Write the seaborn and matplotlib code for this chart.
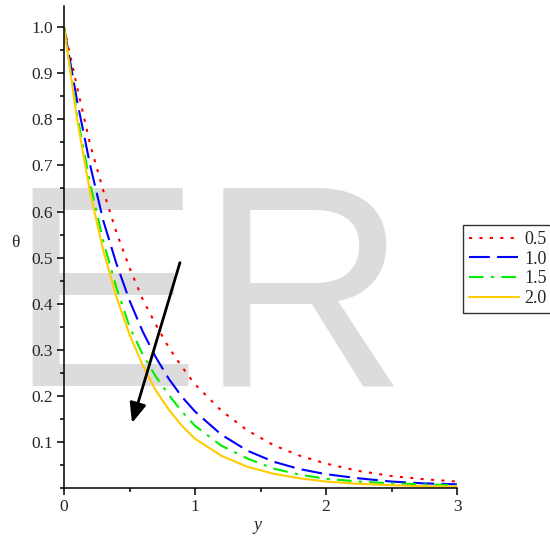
import matplotlib
matplotlib.use("Agg")
import matplotlib.pyplot as plt
import numpy as np
import pandas as pd
import seaborn as sns
from matplotlib.ticker import MultipleLocator, FormatStrFormatter

# values
y_vals = [0, 0.1, 0.2, 0.3, 0.4, 0.5, 0.6, 0.7, 0.8, 0.9, 1.0,
          1.2, 1.4, 1.6, 1.8, 2.0, 2.25, 2.5, 2.75, 3.0]
theta_05 = [1.0, 0.87, 0.745, 0.645, 0.555, 0.478, 0.41, 0.355, 0.305, 0.263, 0.225,
            0.168, 0.125, 0.093, 0.07, 0.053, 0.037, 0.026, 0.019, 0.014]
theta_10 = [1.0, 0.84, 0.70, 0.58, 0.487, 0.407, 0.34, 0.284, 0.237, 0.198, 0.166,
            0.116, 0.081, 0.057, 0.041, 0.030, 0.021, 0.014, 0.010, 0.008]
theta_15 = [1.0, 0.81, 0.66, 0.535, 0.435, 0.35, 0.29, 0.242, 0.202, 0.166, 0.135,
            0.092, 0.064, 0.042, 0.029, 0.020, 0.014, 0.010, 0.008, 0.006]
theta_20 = [1.0, 0.80, 0.64, 0.515, 0.415, 0.333, 0.267, 0.212, 0.17, 0.135, 0.107,
            0.070, 0.046, 0.031, 0.021, 0.014, 0.009, 0.006, 0.004, 0.003]
labels = ["0.5", "1.0", "1.5", "2.0"]
colors = ["#ff0000", "#0000ff", "#00ee00", "#ffcc00"]
dash_styles = [(1.5, 3.5), (10, 3.5), (7, 3.5, 1.5, 3.5), ""]

series = [theta_05, theta_10, theta_15, theta_20]
df = pd.concat([pd.DataFrame({"y": y_vals, "theta": s, "param": lab})
                for s, lab in zip(series, labels)], ignore_index=True)

sns.set_style("white")
plt.rcParams["font.family"] = ["Liberation Serif", "DejaVu Serif"]

fig = plt.figure(figsize=(5.5, 5.39), dpi=100)
ax = fig.add_axes([64 / 550, 1 - 488 / 539, 393 / 550, 482 / 539])
ax.set_facecolor("none")

# watermark behind everything
fig.text(8 / 550, 1 - 386 / 539, "ER", fontsize=207, color="#dcdcdc",
         family="Liberation Sans", ha="left", va="baseline", zorder=-1)

sns.lineplot(data=df, x="y", y="theta", hue="param", style="param",
             hue_order=labels, style_order=labels, palette=colors,
             dashes=dash_styles, linewidth=1.5, legend=False, ax=ax)

ax.set_xlim(0, 3)
ax.set_ylim(0, 1.046)
ax.xaxis.set_major_locator(MultipleLocator(1))
ax.xaxis.set_minor_locator(MultipleLocator(0.5))
ax.set_yticks([0.1, 0.2, 0.3, 0.4, 0.5, 0.6, 0.7, 0.8, 0.9, 1.0])
ax.yaxis.set_minor_locator(MultipleLocator(0.05))
ax.yaxis.set_major_formatter(FormatStrFormatter("%.1f"))
ax.tick_params(which="major", direction="out", length=5, width=1.1,
               labelsize=12.5, color="black", pad=3,
               bottom=True, left=True)
ax.tick_params(which="minor", direction="out", length=3, width=1.1,
               color="black", bottom=True, left=True)

for side in ["top", "right"]:
    ax.spines[side].set_visible(False)
for side in ["left", "bottom"]:
    ax.spines[side].set_color("black")
    ax.spines[side].set_linewidth(1.1)

ax.set_xlabel("y", fontsize=13, style="italic")
ax.xaxis.set_label_coords(0.493, -0.06)
ax.set_ylabel("θ", fontsize=12.5, rotation=0, va="center", ha="center")
ax.yaxis.set_label_coords(-0.125, 0.508)

ax.annotate("", xy=(0.519, 0.141), xytext=(0.885, 0.489),
            arrowprops=dict(arrowstyle="-|>,head_length=1.2,head_width=0.5",
                            color="black", lw=2, shrinkA=0, shrinkB=0))

leg = ax.legend(ax.lines[:4], labels, loc="upper left",
                bbox_to_anchor=(1.015, 0.5456), borderaxespad=0,
                fontsize=13, frameon=True, fancybox=False,
                handlelength=2.78, handletextpad=0.28, labelspacing=0.15,
                borderpad=0.33)
leg.get_frame().set_edgecolor("black")
leg.get_frame().set_linewidth(1.0)

fig.savefig("out.png", dpi=100)
